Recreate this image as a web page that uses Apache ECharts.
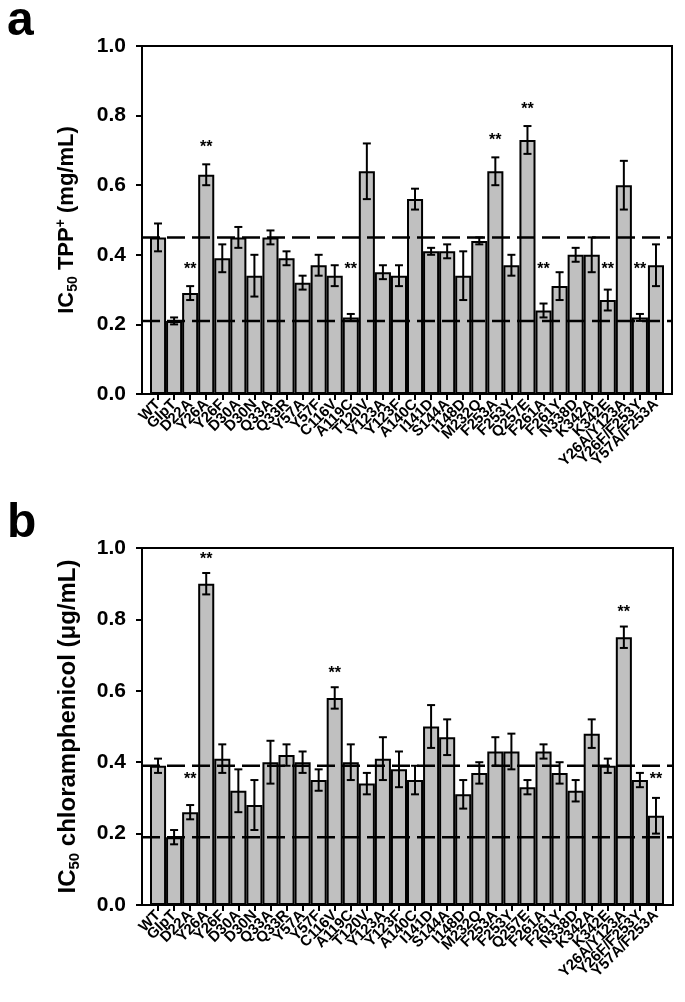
<!DOCTYPE html>
<html><head><meta charset="utf-8">
<script src="https://cdn.jsdelivr.net/npm/echarts@6/dist/echarts.min.js"></script>
<style>html,body{margin:0;padding:0;background:#fff}#c{width:685px;height:1002px}</style>
</head><body><div id="c"></div>
<script>
const categories = ['WT','GlpT','D22A','Y26A','Y26F','D30A','D30N','Q33A','Q33R','Y57A','Y57F','C116V','A119C','T120V','Y123A','Y123F','A140C','I141D','S144A','I148D','M232Q','F253A','F253Y','Q257E','F261A','F261Y','N338D','K342A','K342E','Y26A/Y123A','Y26F/F253Y','Y57A/F253A'];

const tppValues = [0.45,0.21,0.29,0.63,0.39,0.45,0.34,0.45,0.39,0.32,0.37,0.34,0.22,0.64,0.35,0.34,0.56,0.41,0.41,0.34,0.44,0.64,0.37,0.73,0.24,0.31,0.40,0.40,0.27,0.60,0.22,0.37];
const tppErrors = [0.04,0.01,0.02,0.03,0.04,0.03,0.06,0.02,0.02,0.02,0.03,0.03,0.01,0.08,0.02,0.03,0.03,0.01,0.02,0.07,0.01,0.04,0.03,0.04,0.02,0.04,0.02,0.05,0.03,0.07,0.01,0.06];
const tppSignificant = ['D22A','Y26A','A119C','F253A','Q257E','F261A','K342E','Y26F/F253Y'];
const tppReference = [0.45, 0.21];

const cmValues = [0.39,0.19,0.26,0.90,0.41,0.32,0.28,0.40,0.42,0.40,0.35,0.58,0.40,0.34,0.41,0.38,0.35,0.50,0.47,0.31,0.37,0.43,0.43,0.33,0.43,0.37,0.32,0.48,0.39,0.75,0.35,0.25];
const cmErrors = [0.02,0.02,0.02,0.03,0.04,0.06,0.07,0.06,0.03,0.03,0.03,0.03,0.05,0.03,0.06,0.05,0.04,0.06,0.05,0.04,0.03,0.04,0.05,0.02,0.02,0.03,0.03,0.04,0.02,0.03,0.02,0.05];
const cmSignificant = ['D22A','Y26A','C116V','Y26A/Y123A','Y57A/F253A'];
const cmReference = [0.39, 0.19];

const yMin = 0, yMax = 1, yStep = 0.2;

const FONT = 'Liberation Sans, Arial, sans-serif';

function errData(vals, errs){ return categories.map((c,i)=>[i, vals[i], errs[i]]); }
function errRender(params, api){
  const i = api.value(0), v = api.value(1), e = api.value(2);
  const hi = api.coord([i, v+e]), lo = api.coord([i, v-e]);
  const w = 4, st = {stroke:'#000', lineWidth:2};
  return {type:'group', children:[
    {type:'line', shape:{x1:hi[0],y1:hi[1],x2:lo[0],y2:lo[1]}, style:st},
    {type:'line', shape:{x1:hi[0]-w,y1:hi[1],x2:hi[0]+w,y2:hi[1]}, style:st},
    {type:'line', shape:{x1:lo[0]-w,y1:lo[1],x2:lo[0]+w,y2:lo[1]}, style:st}
  ]};
}
function starData(vals, errs, sig, gap, floor){
  return sig.map(name=>{const i = categories.indexOf(name); return [i, Math.max(vals[i]+errs[i]+gap, floor)];});
}
function starRender(params, api){
  const p = api.coord([api.value(0), api.value(1)]);
  return {type:'text', x:p[0], y:p[1], style:{text:'**', font:'bold 16px '+FONT, fill:'#000', align:'center', verticalAlign:'middle'}};
}

const grids = [
  {left:142, top:46, width:530, height:348},
  {left:150, top:46, width:514, height:348},
  {left:142, top:548, width:531, height:357},
  {left:150, top:548, width:514, height:357}
];
grids[0].show = grids[2].show = true;
grids.forEach(g=>{ if(g.show){g.borderColor='#000'; g.borderWidth=2;} g.outerBoundsMode='none'; });

function frameX(gi){ return {gridIndex:gi, type:'value', min:0, max:1, show:false}; }
function barX(gi){ return {gridIndex:gi, type:'category', data:categories,
  axisLine:{show:false},
  axisTick:{show:true, alignWithLabel:true, length:6, lineStyle:{color:'#000', width:2}},
  axisLabel:{interval:0, rotate:45, color:'#000', fontFamily:FONT, fontWeight:'bold', fontSize:15, margin:8}}; }
function richFor(size){
  return {
    m:{fontFamily:FONT, fontWeight:'bold', fontSize:size, color:'#000', lineHeight:size+4},
    sub:{fontFamily:FONT, fontWeight:'bold', fontSize:Math.round(size*0.62), color:'#000', lineHeight:Math.round(size*0.4), verticalAlign:'bottom'},
    sup:{fontFamily:FONT, fontWeight:'bold', fontSize:Math.round(size*0.62), color:'#000', lineHeight:Math.round(size*0.5), verticalAlign:'top'}
  };
}
function frameY(gi, name, size, gap){ return {gridIndex:gi, type:'value', min:yMin, max:yMax, interval:yStep,
  axisLine:{show:true, lineStyle:{color:'#000', width:2}},
  axisTick:{show:true, length:6, lineStyle:{color:'#000', width:2}},
  axisLabel:{color:'#000', fontFamily:FONT, fontWeight:'bold', fontSize:21, margin:16, formatter:v=>v.toFixed(1)},
  splitLine:{show:false},
  name:name, nameLocation:'middle', nameRotate:90, nameGap:gap,
  nameTextStyle:{rich:richFor(size)}}; }
function barY(gi){ return {gridIndex:gi, type:'value', min:yMin, max:yMax, show:false}; }

function refSeries(xi, yi, val){ return {type:'line', xAxisIndex:xi, yAxisIndex:yi, data:[[0,val],[1,val]], symbol:'none', silent:true, z:5,
  lineStyle:{color:'#000', width:2.5, type:[18,7]}}; }

const series = [];
function addPanel(fx, bx, vals, errs, sig, refs, gap, floor){
  series.push({type:'bar', xAxisIndex:bx, yAxisIndex:bx, data:vals, barCategoryGap:'0%', z:2,
    itemStyle:{color:'#c0c0c0', borderColor:'#000', borderWidth:2}});
  refs.forEach(r=>series.push(refSeries(fx, fx, r)));
  series.push({type:'custom', xAxisIndex:bx, yAxisIndex:bx, data:errData(vals, errs), renderItem:errRender, z:6});
  series.push({type:'custom', xAxisIndex:bx, yAxisIndex:bx, data:starData(vals, errs, sig, gap, floor), renderItem:starRender, z:6});
}
addPanel(0, 1, tppValues, tppErrors, tppSignificant, tppReference, 0.047, 0.358);
addPanel(2, 3, cmValues, cmErrors, cmSignificant, cmReference, 0.038, 0.35);

const option = {
  animation:false,
  backgroundColor:'#fff',
  grid:grids,
  xAxis:[frameX(0), barX(1), frameX(2), barX(3)],
  yAxis:[frameY(0, '{m|IC}{sub|50}{m| TPP}{sup|+}{m| (mg/mL)}', 22, 62), barY(1), frameY(2, '{m|IC}{sub|50}{m| chloramphenicol (\u03bcg/mL)}', 24, 60), barY(3)],
  series:series,
  graphic:[
    {type:'text', left:7, top:-2, style:{text:'a', font:'bold 48px '+FONT, fill:'#000'}},
    {type:'text', left:7, top:500, style:{text:'b', font:'bold 48px '+FONT, fill:'#000'}}
  ]
};
const chart = echarts.init(document.getElementById('c'), null, {renderer:'canvas'});
chart.setOption(option);
</script></body></html>
